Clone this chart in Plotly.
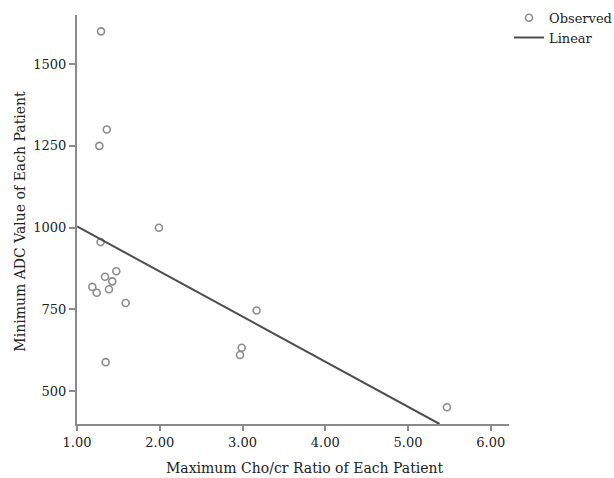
import numpy as np
import plotly.graph_objects as go

cho_cr_ratio = [1.29, 1.36, 1.27, 1.99, 1.285, 1.475, 1.338, 1.426, 1.185,
                1.386, 1.238, 1.588, 1.346, 2.99, 2.97, 3.17, 5.47]
min_adc = [1600, 1300, 1250, 1000, 956, 867, 850, 836, 819,
           812, 801, 770, 589, 633, 611, 747, 451]

x_ticks = [1, 2, 3, 4, 5, 6]
x_tick_labels = ["1.00", "2.00", "3.00", "4.00", "5.00", "6.00"]
y_ticks = [500, 750, 1000, 1250, 1500]
y_tick_labels = ["500", "750", "1000", "1250", "1500"]

slope, intercept = np.polyfit(cho_cr_ratio, min_adc, 1)
x_range = [1.0, 6.22]
y_range = [400, 1650]
x_end = (y_range[0] - intercept) / slope
fit_x = [x_range[0], x_end]
fit_y = [intercept + slope * v for v in fit_x]

FONT = "DejaVu Serif"
AXIS_COLOR = "#8a8a8a"
TEXT_COLOR = "#222222"

fig = go.Figure()
fig.add_trace(go.Scatter(
    x=cho_cr_ratio, y=min_adc, mode="markers", name="Observed",
    marker=dict(symbol="circle-open", size=7, color="#8c8c8c",
                line=dict(width=1.6, color="#8c8c8c")),
))
fig.add_trace(go.Scatter(
    x=fit_x, y=fit_y, mode="lines", name="Linear",
    line=dict(color="#4d4d4d", width=2),
))

fig.update_layout(
    width=614, height=478,
    margin=dict(l=77, r=105, t=15, b=54, autoexpand=False),
    paper_bgcolor="white", plot_bgcolor="white",
    font=dict(family=FONT, size=13, color=TEXT_COLOR),
    legend=dict(x=1.0, y=1.03, xanchor="left", yanchor="top",
                font=dict(family=FONT, size=13, color=TEXT_COLOR),
                itemwidth=30, tracegroupgap=0, bgcolor="rgba(0,0,0,0)"),
    xaxis=dict(range=x_range, tickvals=x_ticks, ticktext=x_tick_labels,
               showgrid=False, zeroline=False, showline=True, automargin=False,
               linecolor=AXIS_COLOR, linewidth=2, ticks="outside",
               ticklen=5, tickwidth=2, tickcolor=AXIS_COLOR),
    yaxis=dict(range=y_range, tickvals=y_ticks, ticktext=y_tick_labels,
               showgrid=False, zeroline=False, showline=True, automargin=False,
               linecolor=AXIS_COLOR, linewidth=2, ticks="outside",
               ticklen=6, tickwidth=2, tickcolor=AXIS_COLOR),
    annotations=[
        dict(text="Maximum Cho/cr Ratio of Each Patient", xref="paper",
             yref="paper", x=0.528, y=-0.107, xanchor="center",
             yanchor="middle", showarrow=False,
             font=dict(family=FONT, size=14, color=TEXT_COLOR)),
        dict(text="Minimum ADC Value of Each Patient", xref="paper",
             yref="paper", x=-0.134, y=0.495, xanchor="center",
             yanchor="middle", textangle=-90, showarrow=False,
             font=dict(family=FONT, size=14, color=TEXT_COLOR)),
    ],
)

fig.write_html("out.html",
               config={"displayModeBar": False},
               post_script="document.body.style.margin='0';"
                           "document.body.style.padding='0';")
